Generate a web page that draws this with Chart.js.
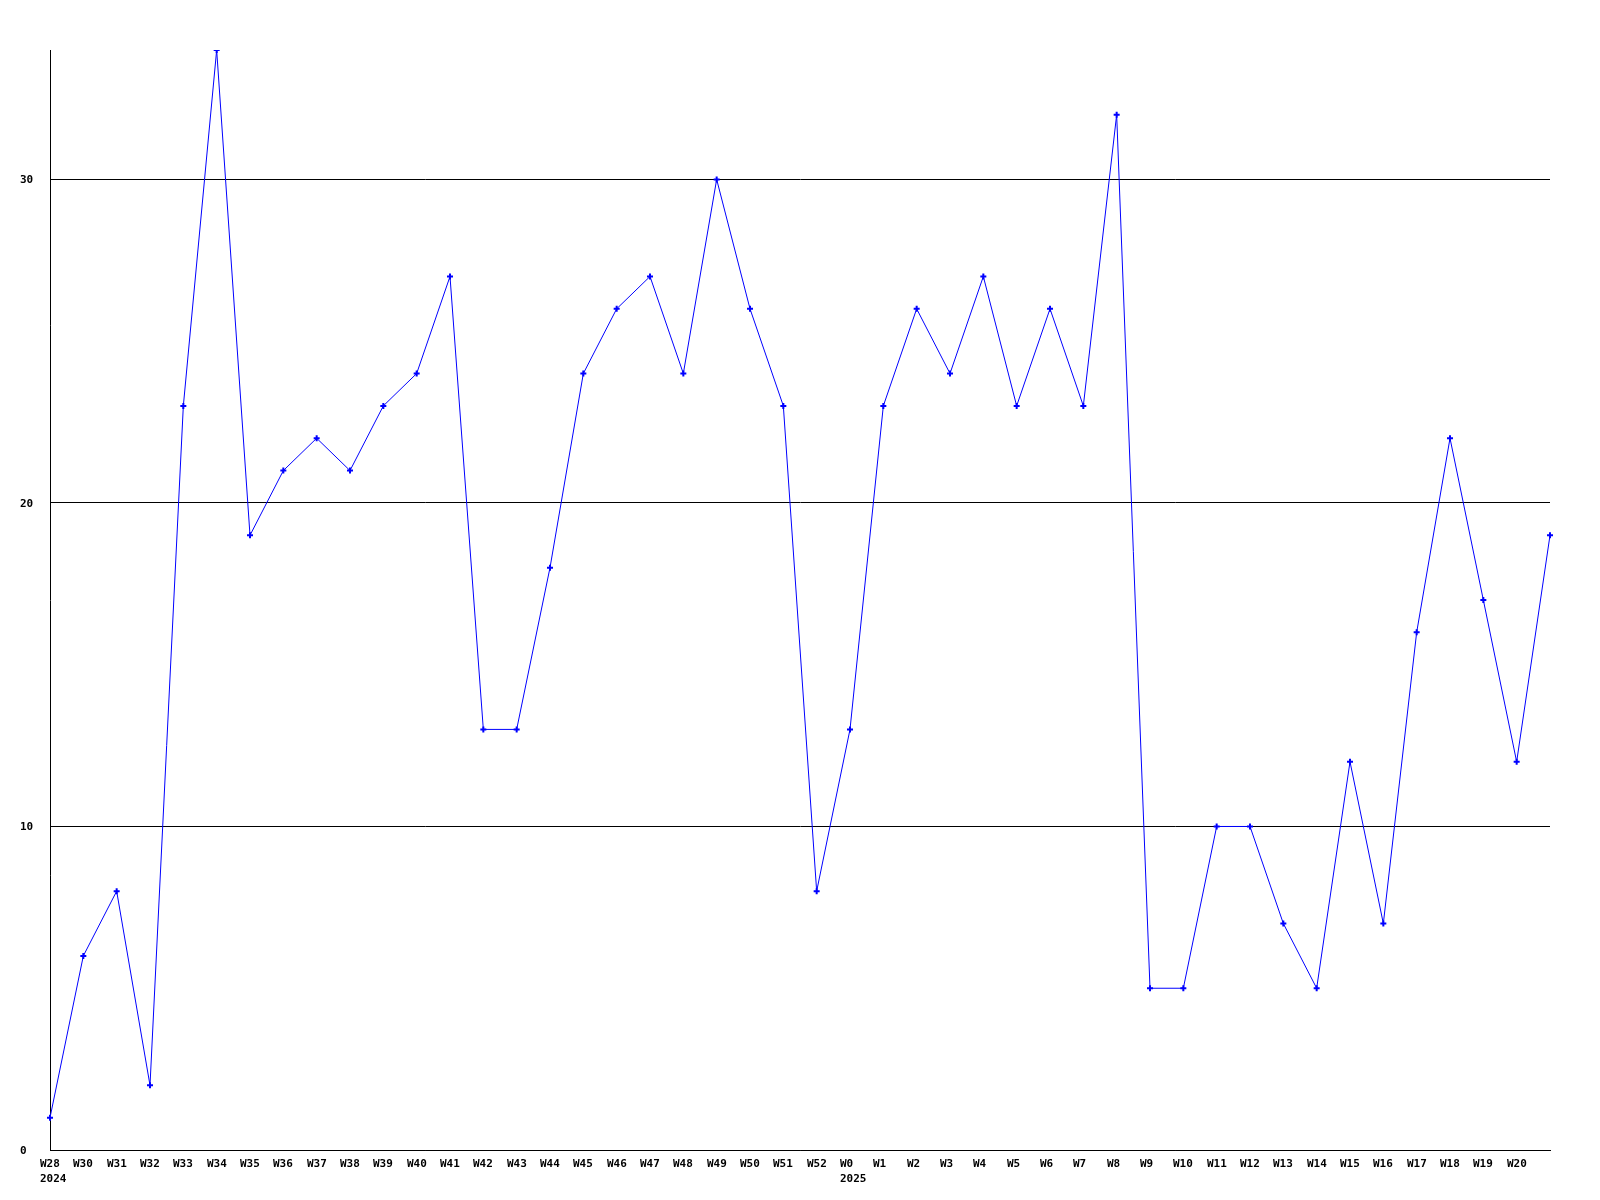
<!DOCTYPE html>
<html>
<head>
<meta charset="utf-8">
<script src="https://cdn.jsdelivr.net/npm/chart.js@4/dist/chart.umd.min.js"></script>
<style>
html,body{margin:0;padding:0;background:#fff;}
#wrap{width:1600px;height:1200px;}
</style>
</head>
<body>
<div id="wrap"><canvas id="c" width="1600" height="1200"></canvas></div>
<script>
const weeks = ["W28","W30","W31","W32","W33","W34","W35","W36","W37","W38","W39","W40","W41","W42","W43","W44","W45","W46","W47","W48","W49","W50","W51","W52","W0","W1","W2","W3","W4","W5","W6","W7","W8","W9","W10","W11","W12","W13","W14","W15","W16","W17","W18","W19","W20","W21"];
const years = {"W28":"2024","W0":"2025"};
const values = [1,6,8,2,23,34,19,21,22,21,23,24,27,13,13,18,24,26,27,24,30,26,23,8,13,23,26,24,27,23,26,23,32,5,5,10,10,7,5,12,7,16,22,17,12,19];
const yTicks = [0,10,20,30];
const yMax = 34;
const FONT = "bold 11px 'DejaVu Sans Mono'";

const labelPlugin = {
  id: 'labels',
  afterDraw(chart) {
    const ctx = chart.ctx;
    const xs = chart.scales.x, ys = chart.scales.y;
    ctx.save();
    ctx.font = FONT;
    ctx.fillStyle = '#000';
    ctx.textAlign = 'left';
    ctx.textBaseline = 'alphabetic';
    for (let i = 0; i < weeks.length - 1; i++) {
      const px = Math.round(xs.getPixelForTick(i)) - 10;
      ctx.fillText(weeks[i], px, 1167);
      if (years[weeks[i]]) ctx.fillText(years[weeks[i]], px, 1182);
    }
    ctx.textBaseline = 'middle';
    yTicks.forEach(v => {
      ctx.fillText(String(v), 20, Math.round(ys.getPixelForValue(v)) + 1);
    });
    ctx.restore();
  }
};

new Chart(document.getElementById('c'), {
  type: 'line',
  data: {
    labels: weeks,
    datasets: [{
      data: values,
      borderColor: '#0000ff',
      backgroundColor: '#0000ff',
      borderWidth: 1,
      pointStyle: 'cross',
      pointRadius: 3,
      pointBorderWidth: 2,
      pointBorderColor: '#0000ff',
      pointHoverRadius: 3,
      tension: 0,
      fill: false
    }]
  },
  options: {
    responsive: false,
    animation: false,
    devicePixelRatio: 1,
    layout: { padding: { left: 50, right: 50, top: 50, bottom: 50 } },
    plugins: { legend: { display: false }, tooltip: { enabled: false } },
    scales: {
      x: {
        type: 'category',
        offset: false,
        grid: { display: false, drawTicks: false },
        border: { display: true, color: '#000', width: 1 },
        ticks: { display: false },
        afterFit(s) { s.height = 0; }
      },
      y: {
        min: 0,
        max: yMax,
        grid: { display: true, color: '#000', lineWidth: 1, drawTicks: false },
        border: { display: true, color: '#000', width: 1 },
        ticks: { display: false },
        afterBuildTicks(s) { s.ticks = yTicks.map(v => ({ value: v })); },
        afterFit(s) { s.width = 0; }
      }
    }
  },
  plugins: [labelPlugin]
});
</script>
</body>
</html>
